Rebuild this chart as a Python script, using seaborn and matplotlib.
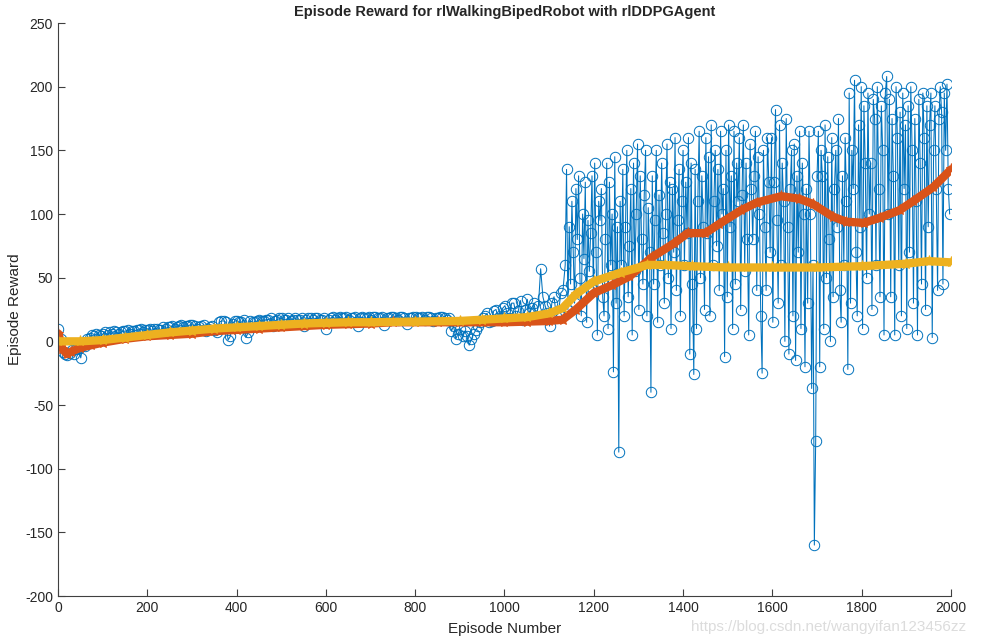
import numpy as np
import matplotlib
matplotlib.use("Agg")
import matplotlib.pyplot as plt
import seaborn as sns

# MATLAB-like look: white background, left/bottom axes only
sns.set_theme(style="ticks")
plt.rcParams["font.family"] = ["Liberation Sans", "DejaVu Sans"]
plt.rcParams["axes.unicode_minus"] = False

BLUE = "#0072BD"
ORANGE = "#D95319"
YELLOW = "#EDB120"

# episode reward (every 5 episodes up to 1131)
early_episodes = np.arange(1, 1136, 5)
early_reward = [
    10, 2, -8, -10, -11, -9, -7, -10, -6, -5, -13, -3, -4, 2, 3, 5, 4, 6, 5, 4,
    6, 7, 5, 7, 6, 8, 7, 6, 7, 8, 8, 9, 6, 8, 8, 9, 9, 10, 7, 9,
    9, 10, 8, 10, 10, 9, 9, 11, 10, 11, 11, 12, 10, 11, 12, 13, 11, 12, 12, 13,
    13, 12, 10, 11, 12, 13, 8, 10, 11, 12, 9, 7, 15, 16, 16, 15, 1, 4, 14, 16,
    16, 15, 15, 17, 3, 7, 16, 15, 15, 16, 17, 16, 16, 17, 17, 18, 12, 16, 17, 18,
    18, 17, 17, 18, 16, 17, 18, 17, 17, 18, 12, 17, 18, 18, 17, 18, 18, 17, 17, 18,
    10, 17, 18, 19, 17, 18, 19, 18, 18, 19, 17, 18, 18, 19, 12, 18, 19, 18, 18, 19,
    17, 19, 19, 18, 18, 19, 13, 18, 18, 19, 19, 18, 17, 19, 19, 18, 14, 18, 18, 19,
    19, 18, 18, 19, 17, 19, 19, 18, 16, 18, 18, 19, 19, 18, 17, 18, 8, 12, 2, 6,
    10, 4, 8, 4, -3, 2, 6, 9, 12, 15, 18, 20, 22, 15, 16, 24, 25, 18, 20, 26,
    28, 22, 18, 30, 30, 20, 24, 32, 17, 25, 33, 22, 26, 30, 20, 28, 57, 35, 28, 22,
    12, 30, 35, 20, 22, 38, 40,
]

# episode reward, every 3 episodes from 1136 on (noisy part)
late_episodes = np.arange(1136, 2000, 3)
late_reward = [
    60, 135, 25, 90, 45, 110, 70, 30, 120, 80, 130, 50, 20, 100, 65, 125, 15, 95, 55, 85,
    130, 40, 140, 70, 5, 110, 95, 120, 35, 20, 80, 140, 10, 125, 60, 100, -24, 145, 30, 90,
    -87, 110, 60, 135, 20, 90, 150, 35, 75, 120, 5, 140, 55, 100, 155, 25, 130, 80, 45, 115,
    150, 20, 105, 70, -40, 130, 45, 95, 150, 15, 115, 60, 140, 85, 30, 100, 155, 50, 125, 10,
    120, 70, 160, 40, 95, 135, 20, 110, 150, 60, 125, 85, 160, -10, 140, 45, -26, 135, 10, 110,
    165, 50, 130, 90, 25, 160, 85, 145, 20, 170, 60, 110, 150, 75, 135, 40, 165, 100, 120, -12,
    150, 35, 170, 90, 130, 10, 165, 45, 140, 110, 160, 25, 115, 170, 55, 140, 80, 5, 155, 120,
    80, 130, 165, 40, 145, 100, 20, -25, 150, 90, 40, 160, 125, 70, 160, 15, 125, 182, 95, 30,
    170, 60, 140, 110, 0, 175, 90, -10, 120, 150, 20, 155, -15, 130, 70, 165, 10, 140, 100, -20,
    120, 30, 165, 100, -37, 60, -160, -78, 130, 165, -20, 150, 130, 10, 170, 50, 145, 80, 0, 160,
    35, 120, 150, 90, 175, 40, 15, 130, 60, 160, 110, -22, 195, 30, 150, 120, 205, 70, 20, 170,
    90, 200, 10, 185, 140, 50, 195, 100, 140, 25, 190, 175, 60, 200, 120, 35, 185, 150, 5, 195,
    208, 100, 190, 35, 175, 130, 5, 200, 160, 60, 180, 20, 195, 120, 170, 10, 185, 70, 200, 150,
    30, 175, 110, 5, 190, 140, 45, 195, 160, 25, 185, 90, 170, 195, 3, 150, 185, 120, 40, 175,
    200, 180, 45, 195, 150, 202, 120, 100,
]

# average reward
avg_episodes = [1, 10, 20, 30, 50, 75, 100, 150, 200, 250, 300, 350, 400,
                450, 500, 550, 600, 650, 700, 750, 800, 850, 900, 950, 1000,
                1050, 1100, 1130, 1160, 1200, 1240, 1280, 1330, 1380, 1410,
                1450, 1480, 1530, 1565, 1620, 1660, 1690, 1735, 1765, 1805,
                1840, 1885, 1915, 1960, 2000]
avg_reward = [6, -6, -10, -8, -5, -3, -1, 2, 4, 5, 6, 8, 9,
              10, 11, 12, 13, 13.5, 14, 15, 15, 15, 15, 15, 15,
              15.5, 16, 17, 25, 38, 44, 51, 66, 77, 85,
              85, 92, 103, 109, 114, 112, 108, 98, 94, 93,
              97, 103, 110, 121, 135]

# episode Q0
q0_episodes = [1, 50, 100, 150, 200, 250, 300, 350, 400, 450, 500, 550, 600,
               650, 700, 800, 900, 950, 1000, 1050, 1100, 1130, 1160, 1200,
               1260, 1320, 1360, 1420, 1500, 1600, 1700, 1800, 1900, 1950, 2000]
q0_values = [0, 0, 1, 3, 5, 7, 8.5, 10, 11, 12, 13, 14, 14.5,
             15, 15, 15.5, 16, 17, 18, 19, 22, 26, 37, 47,
             54, 60, 60, 59, 58, 58, 58, 59, 61, 63, 62]

episodes = np.concatenate([early_episodes, late_episodes])
reward = np.concatenate([early_reward, late_reward]).astype(float)

fig = plt.figure(figsize=(9.81, 6.41), dpi=100)
ax = fig.add_axes([0.0591, 0.0702, 0.9103, 0.8939])

sns.lineplot(x=episodes, y=reward, ax=ax, sort=False, estimator=None,
             color=BLUE, linewidth=0.75, marker="o", markersize=7.5,
             markerfacecolor="none", markeredgecolor=BLUE,
             markeredgewidth=0.7)
sns.lineplot(x=avg_episodes, y=avg_reward, ax=ax, sort=False, estimator=None,
             color=ORANGE, linewidth=6, marker="*", markersize=8,
             markeredgecolor=ORANGE)
sns.lineplot(x=q0_episodes, y=q0_values, ax=ax, sort=False, estimator=None,
             color=YELLOW, linewidth=6, marker="*", markersize=8,
             markeredgecolor=YELLOW)

ax.set_xlim(0, 2000)
ax.set_ylim(-200, 250)
ax.set_xticks(np.arange(0, 2001, 200))
ax.set_yticks(np.arange(-200, 251, 50))

sns.despine(ax=ax)
for side in ["left", "bottom"]:
    ax.spines[side].set_color("#404040")
    ax.spines[side].set_linewidth(0.8)
ax.tick_params(direction="in", length=5, width=0.8, color="#404040",
               labelcolor="#262626", labelsize=10)

ax.set_title("Episode Reward for rlWalkingBipedRobot with rlDDPGAgent",
             fontsize=10.5, fontweight="bold", pad=5)
ax.set_xlabel("Episode Number", fontsize=11, color="#262626", labelpad=5)
ax.set_ylabel("Episode Reward", fontsize=11, color="#262626")
ax.yaxis.set_label_coords(-0.040, 0.5)

fig.text(0.985, 0.022, "https://blog.csdn.net/wangyifan123456zz",
         ha="right", va="center", fontsize=11, color="#dcdcdc")

fig.savefig("out.png", dpi=100)
